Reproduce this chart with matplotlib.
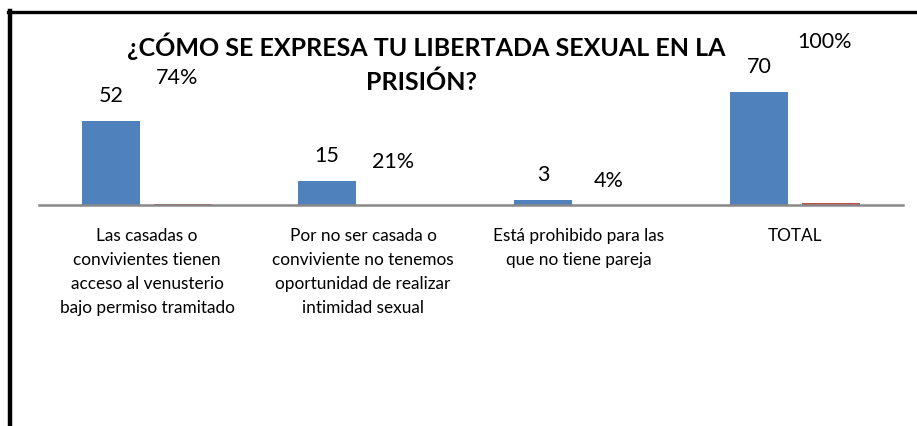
import matplotlib
matplotlib.use("Agg")
import matplotlib.pyplot as plt
from matplotlib.lines import Line2D
import numpy as np

plt.rcParams['font.family'] = ['Lato', 'DejaVu Sans']

categories = [
    "Las casadas o\nconvivientes tienen\nacceso al venusterio\nbajo permiso tramitado",
    "Por no ser casada o\nconviviente no tenemos\noportunidad de realizar\nintimidad sexual",
    "Está prohibido para las\nque no tiene pareja",
    "TOTAL",
]
counts = [52, 15, 3, 70]
percents = [0.74, 0.21, 0.04, 1.00]
percent_labels = ["74%", "21%", "4%", "100%"]
# manual label heights (pixels above the axis) for the percentage labels
pct_label_heights = [128, 44, 25, 164]

title_lines = ["¿CÓMO SE EXPRESA TU LIBERTADA SEXUAL EN LA", "PRISIÓN?"]

W, H = 917, 427
fig = plt.figure(figsize=(W / 100, H / 100), dpi=100)
ax = fig.add_axes([39 / W, (H - 206) / H, 864 / W, 129 / H])

x = np.arange(len(categories))
bw = 0.27
off = 0.167
blue = "#4F81BD"
red = "#C0504D"
ax.bar(x - off, counts, bw, color=blue, zorder=2)
ax.bar(x + off, percents, bw, color=red, zorder=2)

ax.set_xlim(-0.5, len(categories) - 0.5)
ax.set_ylim(0, 80)
for s in ["top", "right", "left"]:
    ax.spines[s].set_visible(False)
ax.spines["bottom"].set_color("#888888")
ax.spines["bottom"].set_linewidth(1.8)
ax.set_yticks([])
ax.set_xticks(x)
ax.set_xticklabels(categories, fontsize=12.4, linespacing=1.62)
ax.tick_params(axis="x", length=0, pad=16, colors="black")

for xi, c in zip(x, counts):
    ax.annotate(str(c), (xi - off, c), xytext=(0, 26), textcoords="offset pixels",
                ha="center", va="center", fontsize=15.5)
for xi, lab, hpx in zip(x, percent_labels, pct_label_heights):
    ax.annotate(lab, (xi + off - 0.03, 0), xytext=(0, hpx), textcoords="offset pixels",
                ha="center", va="center", fontsize=15.5)

fig.text(426 / W, 1 - 46 / H, title_lines[0], ha="center", va="center", fontsize=18,
         fontweight="bold")
fig.text(421 / W, 1 - 82 / H, title_lines[1], ha="center", va="center", fontsize=18,
         fontweight="bold")

# outer frame (top and left edges visible)
fig.add_artist(Line2D([8 / W, 915 / W], [1 - 13 / H, 1 - 13 / H], transform=fig.transFigure,
                      color="black", linewidth=2.4))
fig.add_artist(Line2D([10 / W, 10 / W], [1 - 12 / H, 0], transform=fig.transFigure,
                      color="black", linewidth=3.2))

fig.savefig("out.png", dpi=100)
